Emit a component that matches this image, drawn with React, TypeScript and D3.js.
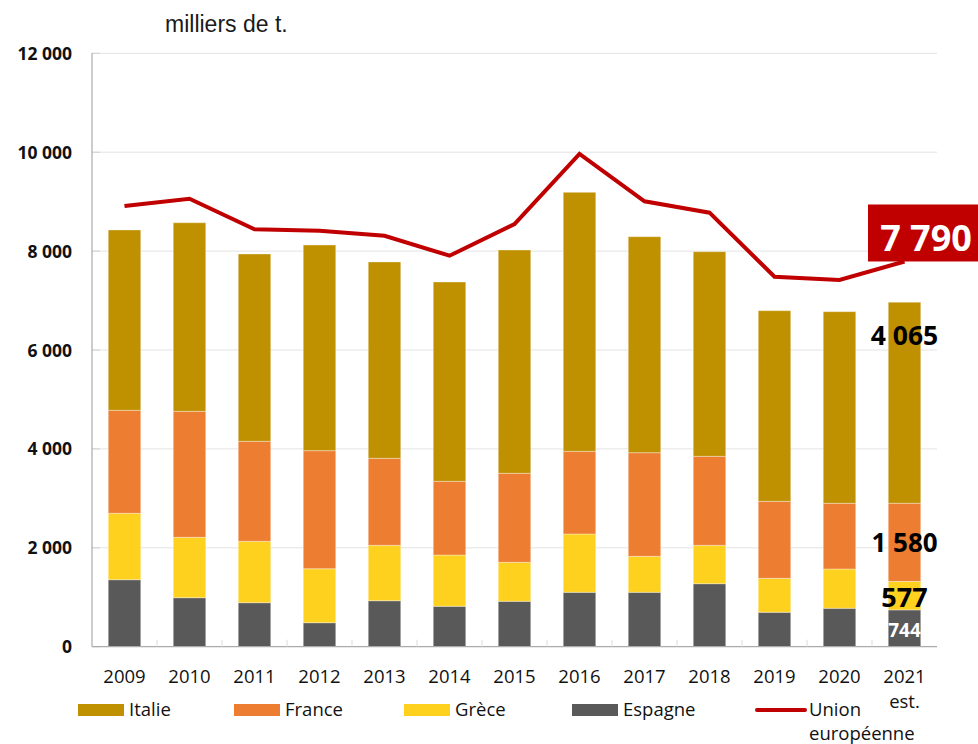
import React from 'react';
import * as d3 from 'd3';

const years = ['2009', '2010', '2011', '2012', '2013', '2014', '2015', '2016', '2017', '2018', '2019', '2020', '2021'];
const espagne = [1355, 991, 890, 485, 930, 817, 918, 1100, 1100, 1274, 696, 777, 744];
const grece = [1343, 1221, 1241, 1092, 1120, 1037, 789, 1179, 728, 776, 687, 794, 577];
const france = [2083, 2548, 2023, 2387, 1760, 1491, 1800, 1672, 2095, 1800, 1557, 1329, 1580];
const italie = [3646, 3814, 3787, 4159, 3970, 4030, 4515, 5238, 4368, 4138, 3855, 3875, 4065];
const ue = [8912, 9060, 8441, 8413, 8311, 7907, 8548, 9964, 9007, 8777, 7482, 7416, 7790];
const yTicks = [0, 2000, 4000, 6000, 8000, 10000, 12000];

const seriesNames = ['Espagne', 'Grèce', 'France', 'Italie'];
const seriesData = [espagne, grece, france, italie];
const colors: Record<string, string> = {
  Espagne: '#595959',
  'Grèce': '#FFD11F',
  France: '#ED7D31',
  Italie: '#BF9000',
};

const W = 978;
const H = 744;
const left = 92;
const right = 937;
const top = 53.3;
const bottom = 646.7;
const FONT = '"Open Sans", Lato, sans-serif';

const fmt = (v: number) => d3.format(',')(v).replace(/,/g, ' ');

export default function App() {
  const x = d3.scaleBand<string>().domain(years).range([left, right]).paddingInner(0.5).paddingOuter(0.25);
  const xb = d3.scaleBand<string>().domain(years).range([left, right]);
  const y = d3.scaleLinear().domain([0, 12000]).range([bottom, top]);

  const rows = years.map((yr, i) => {
    const r: any = { year: yr };
    seriesNames.forEach((s, j) => (r[s] = seriesData[j][i]));
    return r;
  });
  const stack = d3.stack<any>().keys(seriesNames)(rows);

  const line = d3
    .line<number>()
    .x((_, i) => (xb(years[i]) as number) + xb.bandwidth() / 2)
    .y((d) => y(d));

  const last = years.length - 1;
  const cx = (xb(years[last]) as number) + xb.bandwidth() / 2;
  const topOf = (k: number) => y(stack[k][last][1]);

  const legend = [
    { name: 'Italie', x: 78 },
    { name: 'France', x: 234 },
    { name: 'Grèce', x: 404 },
    { name: 'Espagne', x: 572 },
  ];

  return (
    <svg width={W} height={H} style={{ position: 'absolute', left: 0, top: 0, background: '#fff' }}>
      <text x={165} y={32} fontFamily='"Liberation Sans", Arial, sans-serif' fontSize={23} fill="#1a1a1a">
        milliers de t.
      </text>
      {/* gridlines */}
      {yTicks.map((t) => (
        <g key={t}>
          {t > 0 && <line x1={left} x2={right} y1={y(t)} y2={y(t)} stroke="#e3e3e3" strokeWidth={1} />}
          <line x1={left} x2={left + 8} y1={y(t)} y2={y(t)} stroke="#d0d0d0" strokeWidth={1} />
          <text x={72} y={y(t) + 6.5} textAnchor="end" fontFamily={FONT} fontWeight={700} fontSize={17.5} fill="#111">
            {fmt(t)}
          </text>
        </g>
      ))}
      {/* bars */}
      {stack.map((s) => (
        <g key={s.key} fill={colors[s.key]}>
          {s.map((d, i) => (
            <rect
              key={i}
              x={x(years[i])}
              width={x.bandwidth()}
              y={y(d[1])}
              height={y(d[0]) - y(d[1])}
              stroke="rgba(255,255,255,0.35)"
              strokeWidth={1}
            />
          ))}
        </g>
      ))}
      {/* axes */}
      <line x1={left} x2={left} y1={top} y2={bottom} stroke="#ababab" strokeWidth={1.2} />
      <line x1={left} x2={right} y1={bottom} y2={bottom} stroke="#ababab" strokeWidth={1.2} />
      {years.map((yr, i) =>
        i > 0 ? (
          <line key={yr} x1={xb(yr)} x2={xb(yr)} y1={bottom - 7} y2={bottom} stroke="#dcdcdc" strokeWidth={1} />
        ) : null
      )}
      {years.map((yr) => (
        <text
          key={yr}
          x={(xb(yr) as number) + xb.bandwidth() / 2}
          y={683}
          textAnchor="middle"
          fontFamily={FONT}
          fontSize={18.5}
          fill="#111"
        >
          {yr}
        </text>
      ))}
      <text x={cx} y={708} textAnchor="middle" fontFamily={FONT} fontSize={18.5} fill="#111">
        est.
      </text>
      {/* UE line */}
      <path d={line(ue) as string} fill="none" stroke="#C00000" strokeWidth={4} strokeLinejoin="miter" />
      {/* annotations */}
      <rect x={868} y={y(ue[last]) - 57} width={112} height={57} fill="#C00000" />
      <text x={926} y={y(ue[last]) - 10} textAnchor="middle" fontFamily={FONT} fontWeight={700} fontSize={36} fill="#fff">
        {fmt(ue[last])}
      </text>
      <text x={cx} y={topOf(3) + 43} textAnchor="middle" fontFamily={FONT} fontWeight={700} fontSize={26.5} fill="#000">
        {fmt(italie[last])}
      </text>
      <text x={cx} y={topOf(2) + 49} textAnchor="middle" fontFamily={FONT} fontWeight={700} fontSize={26} fill="#000">
        {fmt(france[last])}
      </text>
      <text x={cx} y={topOf(1) + 26} textAnchor="middle" fontFamily={FONT} fontWeight={700} fontSize={27} fill="#000">
        {fmt(grece[last])}
      </text>
      <text x={cx} y={topOf(0) + 27} textAnchor="middle" fontFamily={FONT} fontWeight={700} fontSize={19} fill="#fff">
        {fmt(espagne[last])}
      </text>
      {/* legend */}
      {legend.map((l) => (
        <g key={l.name}>
          <rect x={l.x} y={704} width={46} height={12} fill={colors[l.name]} />
          <text x={l.x + 51} y={716} fontFamily={FONT} fontSize={18.5} fill="#111">
            {l.name}
          </text>
        </g>
      ))}
      <line x1={757} x2={805} y1={710} y2={710} stroke="#C00000" strokeWidth={4} strokeLinecap="round" />
      <text x={809} y={716} fontFamily={FONT} fontSize={18.5} fill="#111">
        Union
      </text>
      <text x={809} y={740} fontFamily={FONT} fontSize={18.5} fill="#111">
        européenne
      </text>
    </svg>
  );
}
